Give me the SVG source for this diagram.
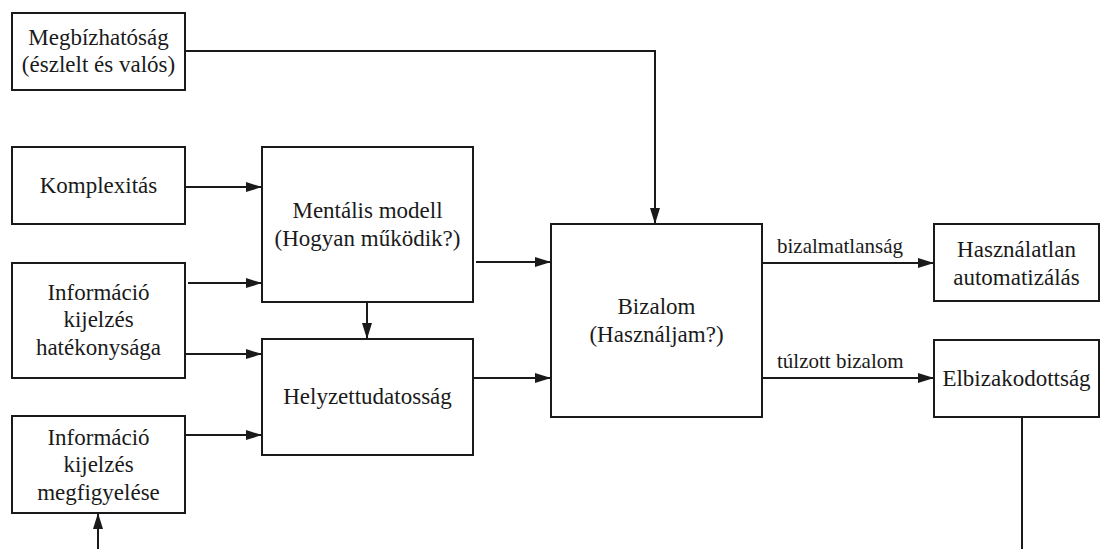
<svg xmlns="http://www.w3.org/2000/svg" width="1100" height="549" viewBox="0 0 1100 549">
<style>
.box{fill:#fff;stroke:#1a1a1a;stroke-width:2}
.t{font-family:'Liberation Serif','DejaVu Serif',serif;font-size:23px;fill:#1a1a1a;text-anchor:middle}
.lbl{font-family:'Liberation Serif','DejaVu Serif',serif;font-size:21px;fill:#1a1a1a;text-anchor:start}
.c{fill:none;stroke:#1a1a1a;stroke-width:2}
</style>
<defs>
<marker id="ah" viewBox="0 0 16 10" refX="16" refY="5" markerWidth="16" markerHeight="10" orient="auto" markerUnits="userSpaceOnUse">
<path d="M0,0 L16,5 L0,10 z" fill="#1a1a1a"/>
</marker>
</defs>
<rect width="1100" height="549" fill="#fff"/>
<g id="connectors">
<path class="c" d="M185,51 H655 V224" marker-end="url(#ah)"/>
<path class="c" d="M185,187 H262" marker-end="url(#ah)"/>
<path class="c" d="M188,283 H262" marker-end="url(#ah)"/>
<path class="c" d="M185,354 H262" marker-end="url(#ah)"/>
<path class="c" d="M185,435 H262" marker-end="url(#ah)"/>
<path class="c" d="M98,549 V513" marker-end="url(#ah)"/>
<path class="c" d="M367,302 V339" marker-end="url(#ah)"/>
<path class="c" d="M476,262 H551" marker-end="url(#ah)"/>
<path class="c" d="M474,378 H551" marker-end="url(#ah)"/>
<path class="c" d="M762,263 H934" marker-end="url(#ah)"/>
<path class="c" d="M762,378 H934" marker-end="url(#ah)"/>
<path class="c" d="M1022,417 V549"/>
<text class="lbl" x="777" y="253" font-family="Liberation Serif, serif">bizalmatlanság</text>
<text class="lbl" x="777" y="368" font-family="Liberation Serif, serif">túlzott bizalom</text>
</g>
<g id="megbizhatosag">
<rect class="box" x="12" y="13" width="173" height="77"/>
<text class="t" x="98.5" y="45">Megbízhatóság</text>
<text class="t" x="98.5" y="72">(észlelt és valós)</text>
</g>
<g id="komplexitas">
<rect class="box" x="12" y="147" width="173" height="77"/>
<text class="t" x="98.5" y="193">Komplexitás</text>
</g>
<g id="info-hatekonysag">
<rect class="box" x="12" y="263" width="173" height="115"/>
<text class="t" x="98.5" y="300">Információ</text>
<text class="t" x="98.5" y="327">kijelzés</text>
<text class="t" x="98.5" y="355">hatékonysága</text>
</g>
<g id="info-megfigyeles">
<rect class="box" x="12" y="416" width="173" height="97"/>
<text class="t" x="98.5" y="445">Információ</text>
<text class="t" x="98.5" y="472">kijelzés</text>
<text class="t" x="98.5" y="500">megfigyelése</text>
</g>
<g id="mentalis">
<rect class="box" x="262" y="147" width="211" height="155"/>
<text class="t" x="367.5" y="218">Mentális modell</text>
<text class="t" x="367.5" y="246">(Hogyan működik?)</text>
</g>
<g id="helyzet">
<rect class="box" x="262" y="339" width="211" height="116"/>
<text class="t" x="367.5" y="404">Helyzettudatosság</text>
</g>
<g id="bizalom">
<rect class="box" x="551" y="224" width="211" height="193"/>
<text class="t" x="656.5" y="314">Bizalom</text>
<text class="t" x="656.5" y="342">(Használjam?)</text>
</g>
<g id="hasznalatlan">
<rect class="box" x="934" y="224" width="165" height="77"/>
<text class="t" x="1016.5" y="257">Használatlan</text>
<text class="t" x="1016.5" y="285">automatizálás</text>
</g>
<g id="elbizakodottsag">
<rect class="box" x="934" y="340" width="165" height="77"/>
<text class="t" x="1016.5" y="386">Elbizakodottság</text>
</g>
</svg>
